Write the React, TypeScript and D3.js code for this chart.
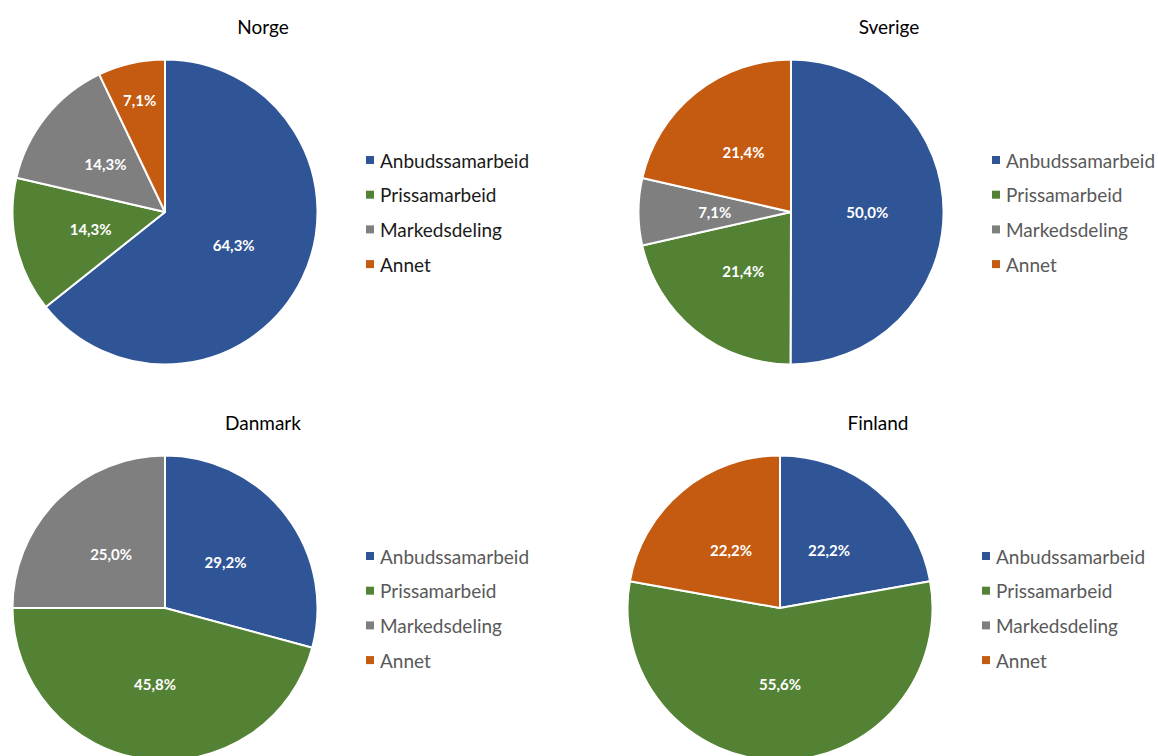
import React from "react";
import * as d3 from "d3";

const categories = ["Anbudssamarbeid", "Prissamarbeid", "Markedsdeling", "Annet"];
const countries = ["Norge", "Sverige", "Danmark", "Finland"];
const norgeValues = [64.3, 14.3, 14.3, 7.1];
const sverigeValues = [50.0, 21.4, 7.1, 21.4];
const danmarkValues = [29.2, 45.8, 25.0, 0];
const finlandValues = [22.2, 55.6, 0, 22.2];
const colors = ["#2F5597", "#548235", "#7F7F7F", "#C55A11"];

const seriesValues = [norgeValues, sverigeValues, danmarkValues, finlandValues];

const panels = [
  { cx: 165, cy: 212, titleX: 263, titleY: 26, legendX: 366, legendY: 160, legendColor: "#1a1a1a" },
  { cx: 791, cy: 212, titleX: 889, titleY: 26, legendX: 992, legendY: 160, legendColor: "#595959" },
  { cx: 165, cy: 608, titleX: 263, titleY: 422, legendX: 366, legendY: 556, legendColor: "#595959" },
  { cx: 780, cy: 608, titleX: 878, titleY: 422, legendX: 982, legendY: 556, legendColor: "#595959" },
];

const R = 152.5;
const FONT = "Lato, 'Open Sans', sans-serif";
const fmt = (v: number) => d3.format(".1f")(v).replace(".", ",") + "%";

function normAngle(x: number, y: number) {
  let a = Math.atan2(x, -y);
  if (a < 0) a += Math.PI * 2;
  return a;
}

function fits(cx: number, cy: number, w: number, h: number, a0: number, a1: number) {
  const corners = [
    [cx - w / 2, cy - h / 2],
    [cx + w / 2, cy - h / 2],
    [cx - w / 2, cy + h / 2],
    [cx + w / 2, cy + h / 2],
  ];
  return corners.every(([x, y]) => {
    const a = normAngle(x, y);
    const d = Math.hypot(x, y);
    return a >= a0 && a <= a1 && d < R;
  });
}

function Panel({ idx }: { idx: number }) {
  const p = panels[idx];
  const values = seriesValues[idx];
  const pie = d3.pie<number>().sort(null).value((d) => d)(values);
  const arc = d3.arc<d3.PieArcDatum<number>>().innerRadius(0).outerRadius(R);
  const labelFont = 15;
  return (
    <g>
      <text x={p.titleX} y={p.titleY} textAnchor="middle" dominantBaseline="central"
        fontFamily={FONT} fontSize={19} fill="#000">{countries[idx]}</text>
      <g transform={`translate(${p.cx},${p.cy})`}>
        {pie.map((s, i) =>
          s.value > 0 ? (
            <path key={i} d={arc(s) || ""} fill={colors[i]} stroke="#fff" strokeWidth={2} strokeLinejoin="round" />
          ) : null
        )}
        {pie.map((s, i) => {
          if (s.value <= 0) return null;
          const label = fmt(s.value);
          const w = label.length * labelFont * 0.55 + 8;
          const h = labelFont + 2;
          const mid = (s.startAngle + s.endAngle) / 2;
          let f = 0.5;
          let lx = Math.sin(mid) * R * f;
          let ly = -Math.cos(mid) * R * f;
          if (!fits(lx, ly, w, h, s.startAngle, s.endAngle)) {
            f = 0.75;
            lx = Math.sin(mid) * R * f;
            ly = -Math.cos(mid) * R * f;
          }
          return (
            <text key={"l" + i} x={lx} y={ly} textAnchor="middle" dominantBaseline="central"
              fontFamily={FONT} fontWeight={700} fontSize={labelFont} fill="#fff">{label}</text>
          );
        })}
      </g>
      <g>
        {categories.map((c, i) => {
          const y = p.legendY + i * 34.7;
          return (
            <g key={c}>
              <rect x={p.legendX} y={y - 4} width={8} height={8} fill={colors[i]} />
              <text x={p.legendX + 14} y={y} dominantBaseline="central" fontFamily={FONT}
                fontSize={19} fill={p.legendColor}>{c}</text>
            </g>
          );
        })}
      </g>
    </g>
  );
}

export default function App() {
  return (
    <svg width={1158} height={756} style={{ position: "absolute", left: 0, top: 0, background: "#fff" }}>
      <rect width={1158} height={756} fill="#fff" />
      {countries.map((_, i) => (
        <Panel key={i} idx={i} />
      ))}
    </svg>
  );
}
